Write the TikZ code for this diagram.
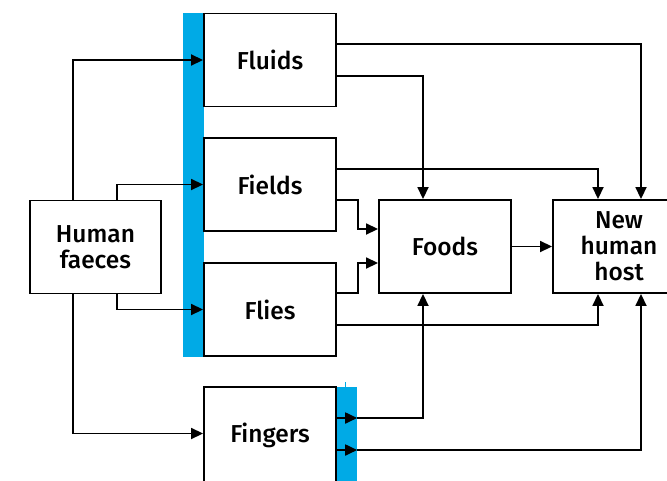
\documentclass[tikz,border=0pt]{standalone}
\usepackage{fontspec}
\newfontfamily\labelfont{Fira Sans Medium}
\usetikzlibrary{positioning, calc}
\usetikzlibrary{arrows.meta}
\definecolor{barblue}{RGB}{0,170,230}

\tikzset{
    box/.style={draw, fill=white, line width=1.9pt, minimum width=132pt, minimum height=93pt,
        align=center, font=\labelfont\fontsize{24.5}{26}\selectfont, inner sep=0pt},
    gate/.style={fill=barblue, inner sep=0pt},
    flow/.style={line width=1.8pt, -{Triangle[length=12pt,width=11pt]}}
}

\begin{document}
\begin{tikzpicture}[x=1pt,y=-1pt]
            \useasboundingbox (0,0) rectangle (667,480);
            % blue barriers
            \node[gate, minimum width=21pt, minimum height=344pt] (gatea) at (193.5,185) {};
            \node[gate, minimum width=21pt, minimum height=100pt] (gateb) at (346.5,437) {};
            \draw[barblue, line width=1pt] (345,382) -- (345,387);
            % boxes
            \node[box, minimum width=131pt] (faeces) at (95.5,247) {Human\\faeces};
            \node[box] (fluids) at (270,60) {Fluids};
            \node[box] (fields) at (270,184.5) {Fields};
            \node[box] (flies) at (270,309.5) {Flies};
            \node[box, minimum height=97pt] (fingers) at (270,435.5) {Fingers};
            \node[box] (foods) at (445,246.5) {Foods};
            \node[box] (host) at (619,246.5) {New\\human\\host};
            % from faeces
            \draw[flow] ([xshift=-22.5pt]faeces.north) |- (fluids.west);
            \draw[flow] ([xshift=21.5pt]faeces.north) |- (fields.west);
            \draw[flow] ([xshift=21.5pt]faeces.south) |- (flies.west);
            \draw[flow] ([xshift=-22.5pt]faeces.south) |- ([yshift=2pt]fingers.west);
            % fluids and fields
            \draw[flow] ([yshift=16pt]fluids.east) -| ([xshift=22pt]host.north);
            \draw[flow] ([yshift=-16pt]fluids.east) -| ([xshift=-22pt]foods.north);
            \draw[flow] ([yshift=15.5pt]fields.east) -| ([xshift=-21pt]host.north);
            \draw[flow] ([yshift=-15.5pt]fields.east) -- ++(21,0) |- ([yshift=17.5pt]foods.west);
            % flies
            \draw[flow] ([yshift=16.5pt]flies.east) -- ++(21,0) |- ([yshift=-16.5pt]foods.west);
            \draw[flow] ([yshift=-15.5pt]flies.east) -| ([xshift=-21pt]host.south);
            \draw[flow] (foods.east) -- (host.west);
            % fingers
            \coordinate (fa) at ([yshift=17.5pt]fingers.east);
            \coordinate (fb) at ([yshift=-14.5pt]fingers.east);
            \draw[flow] (fa) -- (fa -| gateb.east);
            \draw[flow] (fb) -- (fb -| gateb.east);
            \draw[flow] (fa -| gateb.east) -| ([xshift=-22pt]foods.south);
            \draw[flow] (fb -| gateb.east) -| ([xshift=22pt]host.south);
        \end{tikzpicture}
\end{document}
